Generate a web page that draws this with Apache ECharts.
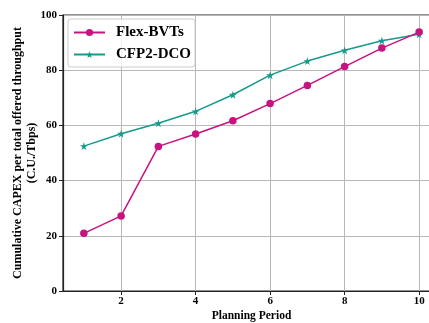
<!DOCTYPE html>
<html><head><meta charset="utf-8">
<script src="https://cdn.jsdelivr.net/npm/echarts@6/dist/echarts.min.js"></script>
<style>html,body{margin:0;padding:0;background:#fff}#c{width:429px;height:323px}</style>
</head><body><div id="c"></div>
<script>
const periods = [1,2,3,4,5,6,7,8,9,10];
const flexBVTs = [20.9,27.2,52.4,56.9,61.7,67.9,74.5,81.3,88.0,93.8];
const cfp2DCO = [52.5,57.0,60.8,65.1,71.1,78.2,83.3,87.2,90.7,93.0];
const xTicks = [2,4,6,8,10];
const yTicks = [0,20,40,60,80,100];

const FONT = 'Liberation Serif';
const star = 'path://M50,0 L61,35 L98,35 L68,57 L79,91 L50,70 L21,91 L32,57 L2,35 L39,35 Z';
const chart = echarts.init(document.getElementById('c'));
chart.setOption({
  animation: false,
  textStyle: {fontFamily: FONT},
  grid: {left: 63, top: 15, bottom: 32, right: -11, outerBoundsMode: 'none', containLabel: false,
         show: true, borderColor: '#222', borderWidth: 1.2},
  legend: {
    left: 68, top: 19, orient: 'vertical', itemWidth: 31, itemHeight: 9, itemGap: 7,
    padding: [6, 4, 5, 5],
    borderColor: '#ccc', borderWidth: 1, borderRadius: 3, backgroundColor: 'rgba(255,255,255,0.8)',
    textStyle: {fontFamily: FONT, fontWeight: 'bold', fontSize: 15, color: '#000', padding: [0, 0, 0, 6]},
    data: ['Flex-BVTs', 'CFP2-DCO']
  },
  xAxis: {
    type: 'value', min: 0.44, max: 10.56,
    name: 'Planning Period', nameLocation: 'middle', nameGap: 19, nameMoveOverlap: false,
    nameTextStyle: {fontFamily: FONT, fontWeight: 'bold', fontSize: 11.5, color: '#000'},
    axisLine: {lineStyle: {color: '#222', width: 1.2}},
    axisTick: {show: true, inside: false, length: 4, customValues: xTicks, lineStyle: {color: '#222'}},
    axisLabel: {customValues: xTicks, fontFamily: FONT, fontWeight: 'bold', fontSize: 11, color: '#000', margin: 5},
    splitLine: {show: true, lineStyle: {color: '#b8b8b8', width: 1}}
  },
  yAxis: {
    type: 'value', min: 0, max: 100, interval: 20,
    name: 'Cumulative CAPEX per total offered throughput\n(C.U./Tbps)', nameLocation: 'middle', nameGap: 24, nameMoveOverlap: false,
    nameTextStyle: {fontFamily: FONT, fontWeight: 'bold', fontSize: 12, color: '#000', lineHeight: 14},
    axisLine: {show: true, lineStyle: {color: '#222', width: 1.2}},
    axisTick: {show: true, length: 4, lineStyle: {color: '#222'}},
    axisLabel: {fontFamily: FONT, fontWeight: 'bold', fontSize: 11, color: '#000', margin: 6},
    splitLine: {show: true, lineStyle: {color: '#b8b8b8', width: 1}}
  },
  series: [
    {name: 'Flex-BVTs', type: 'line', data: periods.map((p,i)=>[p, flexBVTs[i]]),
     symbol: 'circle', symbolSize: 7.5, itemStyle: {color: '#c8127f'}, lineStyle: {color: '#c8127f', width: 1.5}, z: 3},
    {name: 'CFP2-DCO', type: 'line', data: periods.map((p,i)=>[p, cfp2DCO[i]]),
     symbol: star, symbolSize: 8, itemStyle: {color: '#159a8c'}, lineStyle: {color: '#159a8c', width: 1.5}, z: 2}
  ]
});
</script></body></html>
